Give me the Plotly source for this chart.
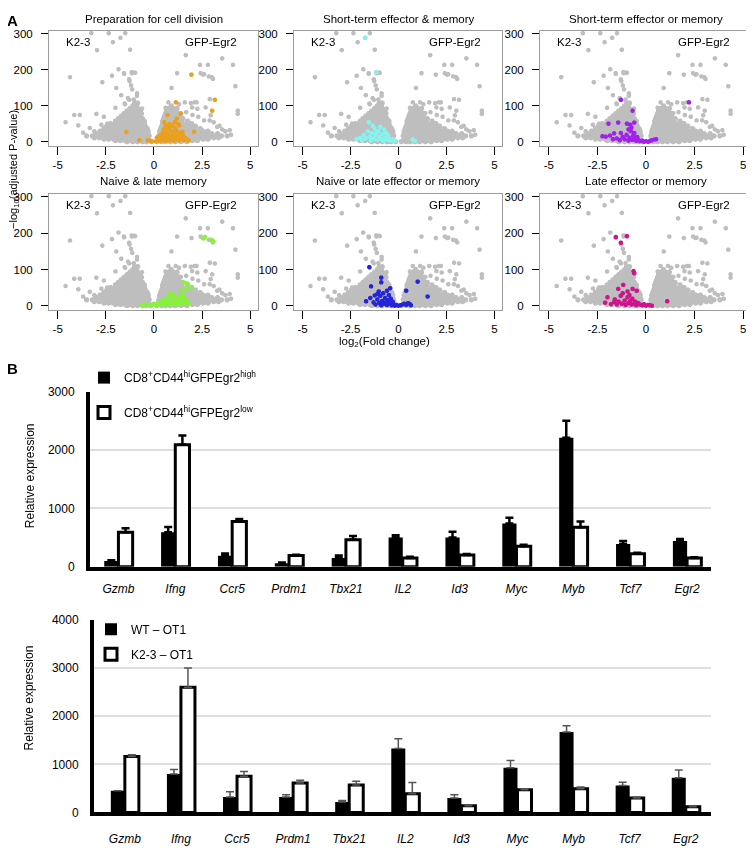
import plotly.graph_objects as go

W, H = 754, 848          # window size
OFF = 8                  # default page body margin
FW, FH = W - OFF, H - OFF

# ---------------- Panel A data (volcano plots) ----------------
# dense grey mass: rows of (-log10 adj P, [log2 FC values])
grey_rows = [
    (1, [-1.4, -1.1, -0.85, -0.6, -0.4, -0.15, 0.15, 0.4, 0.6, 0.85, 1.1, 1.4, 1.7]),
    (4, [-2.0, -1.75, -1.5, -1.25, -1.0, -0.75, -0.5, -0.25, 0.25, 0.5, 0.75, 1.0, 1.25, 1.5, 1.75, 2.0, 2.25]),
    (8, [-2.6, -2.35, -2.1, -1.85, -1.6, -1.35, -1.1, -0.85, -0.6, -0.35, 0.3, 0.55, 0.8, 1.05, 1.3, 1.55, 1.8, 2.05, 2.3, 2.55, 2.8]),
    (12, [-3.1, -2.85, -2.6, -2.35, -2.1, -1.85, -1.6, -1.35, -1.1, -0.85, -0.6, -0.35, 0.35, 0.6, 0.85, 1.1, 1.35, 1.6, 1.85, 2.1, 2.35, 2.6, 2.85, 3.1, 3.35]),
    (17, [-3.5, -3.2, -2.95, -2.7, -2.45, -2.2, -1.95, -1.7, -1.45, -1.2, -0.95, -0.7, -0.45, -0.25, 0.25, 0.45, 0.7, 0.95, 1.2, 1.45, 1.7, 1.95, 2.2, 2.45, 2.7, 2.95, 3.2, 3.5, 3.8]),
    (23, [-3.0, -2.75, -2.5, -2.25, -2.0, -1.75, -1.5, -1.25, -1.0, -0.75, -0.5, -0.3, 0.3, 0.5, 0.75, 1.0, 1.25, 1.5, 1.75, 2.0, 2.25, 2.5, 2.75, 3.0, 3.3]),
    (30, [-2.8, -2.55, -2.3, -2.05, -1.8, -1.55, -1.3, -1.05, -0.8, -0.55, -0.3, 0.3, 0.55, 0.8, 1.05, 1.3, 1.55, 1.8, 2.05, 2.3, 2.55, 2.8]),
    (37, [-2.6, -2.35, -2.1, -1.85, -1.6, -1.35, -1.1, -0.85, -0.6, -0.35, 0.35, 0.6, 0.85, 1.1, 1.35, 1.6, 1.85, 2.1, 2.4]),
    (44, [-2.45, -2.2, -1.95, -1.7, -1.45, -1.2, -0.95, -0.7, -0.45, 0.4, 0.65, 0.9, 1.15, 1.4, 1.65, 1.9, 2.15]),
    (51, [-2.25, -2.0, -1.75, -1.5, -1.25, -1.0, -0.75, -0.5, 0.45, 0.7, 0.95, 1.2, 1.45, 1.7, 1.95]),
    (58, [-2.0, -1.75, -1.5, -1.25, -1.0, -0.75, -0.5, 0.45, 0.7, 0.95, 1.2, 1.45, 1.75]),
    (65, [-1.85, -1.6, -1.35, -1.1, -0.85, -0.6, 0.5, 0.75, 1.0, 1.25, 1.5]),
    (72, [-1.7, -1.45, -1.2, -0.95, -0.7, 0.55, 0.8, 1.05, 1.3]),
    (79, [-1.55, -1.3, -1.05, -0.8, -0.65, 0.6, 0.85, 1.1, 1.3]),
    (86, [-1.4, -1.15, -0.9, -0.7, 0.65, 0.9, 1.15]),
    (93, [-1.25, -1.05, -0.85, 0.75, 1.0, 1.2]),
    (100, [-1.1, -0.9, 0.9]),
    (108, [-1.0, -0.85]),
]
# scattered grey genes (log2 FC, -log10 adj P)
grey_outliers = [
    (-3.25, 302), (-2.35, 302), (-2.13, 277), (-1.74, 289), (-1.49, 302), (-2.96, 255), (-1.24, 256),
    (1.65, 241), (3.54, 232), (2.39, 214), (2.80, 214), (4.10, 214),
    (-4.36, 180), (-2.68, 166), (-2.18, 184), (-1.84, 202), (-1.56, 191), (-1.15, 191), (-1.01, 193),
    (-1.96, 150), (-1.27, 169), (-1.19, 157), (-1.13, 146),
    (0.91, 150), (1.2, 191), (2.42, 191), (2.54, 187), (2.85, 182), (3.06, 175), (4.23, 155),
    (-0.88, 135), (-0.88, 128), (-1.70, 130), (-1.5, 105), (-1.35, 122), (-1.05, 118),
    (-4.14, 75), (-3.85, 75), (-3.93, 46), (-4.59, 55), (-2.99, 78), (-3.68, 26), (-3.33, 39),
    (-2.73, 48), (-2.42, 51), (-3.1, 30), (-2.0, 95), (-2.6, 70),
    (4.35, 87), (4.35, 78), (3.93, 33), (3.54, 35), (3.28, 42), (2.89, 60), (2.94, 74), (2.68, 96),
    (2.90, 119), (1.91, 108), (2.25, 92), (1.98, 96), (1.67, 83), (1.49, 65),
    (0.6, 95), (0.75, 110), (1.3, 105), (1.6, 110), (2.1, 110), (1.4, 80), (2.0, 75), (2.3, 70),
    (2.6, 60), (3.1, 55), (3.4, 45), (3.7, 30), (4.0, 20),
    (1.95, 187), (3.16, 117), (3.02, 87), (1.13, 110), (-1.16, 194), (2.21, 110), (-1.29, 117),
    (-0.69, 87), (2.6, 188), (3.0, 180), (-1.52, 107), (1.0, 67), (-1.55, 189), (-0.98, 192),
    (-1.29, 174), (-0.62, 93),
]

orange_pts = [
    (1.94, 187), (3.16, 117), (3.02, 87), (1.13, 110), (0.70, 75), (1.39, 78), (1.19, 65), (1.31, 46),
    (1.08, 55), (2.08, 28), (-1.44, 28), (-0.76, 5), (-0.33, 5), (1.48, 28), (0.79, 45), (0.53, 55),
    (0.1, 2), (0.2, 5), (0.3, 3), (0.35, 10), (0.4, 6), (0.45, 15), (0.5, 4), (0.55, 20), (0.6, 8),
    (0.6, 30), (0.65, 14), (0.7, 40), (0.7, 3), (0.75, 22), (0.8, 10), (0.85, 33), (0.9, 5), (0.9, 18),
    (0.95, 45), (1.0, 12), (1.0, 28), (1.05, 3), (1.1, 38), (1.1, 20), (1.15, 8), (1.2, 30), (1.25, 15),
    (1.3, 4), (1.35, 24), (1.4, 10), (1.5, 18), (1.55, 5), (1.6, 12), (1.7, 8), (0.5, 35), (0.3, 18),
    (0.8, 50), (1.25, 50), (0.6, 45), (0.45, 26), (1.8, 4), (-0.1, 2), (-0.2, 4), (0.15, 12),
]
cyan_pts = [
    (-1.72, 290), (-1.16, 194), (-1.55, 55), (0.86, 3), (0.74, 7),
    (-2.2, 8), (-2.0, 12), (-1.9, 5), (-1.8, 20), (-1.7, 10), (-1.6, 30), (-1.5, 15), (-1.45, 4),
    (-1.4, 25), (-1.3, 10), (-1.25, 38), (-1.2, 20), (-1.1, 6), (-1.05, 30), (-1.0, 15), (-0.95, 42),
    (-0.9, 8), (-0.85, 22), (-0.8, 3), (-0.75, 35), (-0.7, 12), (-0.65, 25), (-0.6, 6), (-0.55, 18),
    (-0.5, 10), (-0.4, 4), (-0.3, 8), (-0.2, 3), (-1.35, 45), (-1.15, 28),
]
purple_pts = [
    (-1.29, 117), (-0.69, 87), (2.21, 110), (-1.93, 51), (-1.43, 54), (-0.98, 51), (-0.81, 48),
    (-0.6, 54), (-2.24, 16), (-2.07, 15), (-1.64, 24), (-1.29, 25), (-0.78, 30), (-1.5, 10),
    (-1.35, 5), (-1.2, 14), (-1.1, 8), (-1.0, 20), (-0.9, 4), (-0.85, 12), (-0.7, 6), (-0.65, 18),
    (-0.55, 9), (-0.5, 3), (-0.45, 14), (-0.4, 6), (-0.3, 2), (-0.2, 4), (-0.1, 1), (0.0, 2), (0.1, 1),
    (0.2, 3), (0.3, 5), (0.45, 7), (0.52, 8), (-0.9, 35), (-0.75, 40), (-1.7, 8), (-1.85, 18), (-0.6, 25),
]
green_pts = [
    (2.56, 186), (2.65, 190), (2.97, 182), (3.08, 178), (1.53, 65), (1.72, 62), (1.91, 51), (1.65, 47),
    (1.4, 42), (-0.65, 3), (-0.5, 5), (-0.3, 2), (-0.1, 4), (0.0, 6), (0.1, 2), (0.2, 8), (0.3, 4),
    (0.4, 12), (0.5, 6), (0.55, 18), (0.6, 3), (0.7, 10), (0.75, 25), (0.8, 5), (0.9, 15), (0.95, 30),
    (1.0, 8), (1.1, 20), (1.15, 4), (1.2, 12), (1.3, 25), (1.35, 6), (1.45, 15), (1.5, 30), (1.55, 8),
    (1.6, 20), (1.7, 12), (1.8, 5), (0.85, 35), (1.05, 28),
]
blue_pts = [
    (-1.52, 107), (-0.90, 78), (-0.90, 65), (-1.43, 54), (-0.43, 49), (1.0, 67), (1.52, 26), (0.40, 42),
    (-1.03, 40), (-1.69, 13), (-1.47, 22), (-1.24, 29), (-1.3, 10), (-1.2, 4), (-1.1, 18), (-1.0, 8),
    (-0.95, 28), (-0.9, 2), (-0.85, 14), (-0.8, 35), (-0.75, 6), (-0.7, 22), (-0.65, 10), (-0.6, 3),
    (-0.55, 16), (-0.5, 30), (-0.45, 7), (-0.4, 20), (-0.35, 2), (-0.3, 12), (-0.25, 5), (-0.2, 1),
    (-0.1, 3), (0.0, 1), (0.1, 2), (0.2, 4), (0.3, 6), (0.4, 3), (0.5, 8), (0.6, 5), (0.65, 2),
    (-0.6, 42), (-1.1, 33),
]
magenta_pts = [
    (-1.55, 189), (-0.98, 192), (-1.29, 174), (-0.64, 96), (-0.60, 90), (-1.17, 58), (-1.43, 47),
    (-0.69, 47), (-0.48, 42), (-1.98, 24), (-2.10, 9), (-1.64, 11), (-0.95, 24), (1.09, 13),
    (-1.8, 5), (-1.6, 18), (-1.5, 4), (-1.4, 12), (-1.3, 28), (-1.25, 6), (-1.1, 15), (-1.05, 3),
    (-0.9, 8), (-0.85, 30), (-0.8, 14), (-0.75, 4), (-0.7, 20), (-0.6, 6), (-0.55, 12), (-0.5, 2),
    (-0.4, 8), (-0.3, 4), (-0.2, 2), (-0.1, 5), (0.0, 1), (0.1, 3), (0.2, 2), (0.3, 1), (-1.2, 35),
    (-0.95, 40),
]

panel_titles = ["Preparation for cell division", "Short-term effector & memory",
                "Short-term effector or memory", "Naive & late memory",
                "Naive or late effector or memory", "Late effector or memory"]
panel_colors = ["#E9A021", "#86F3EE", "#A21FEE", "#86F23A", "#2424D8", "#D0128C"]
panel_points = [orange_pts, cyan_pts, purple_pts, green_pts, blue_pts, magenta_pts]

volc_xticks = [-5, -2.5, 0, 2.5, 5]
volc_xticktext = ["-5", "-2.5", "0", "2.5", "5"]
volc_yticks = [0, 100, 200, 300]

# ---------------- Panel B data (qPCR bars) ----------------
genes = ["Gzmb", "Ifng", "Ccr5", "Prdm1", "Tbx21", "IL2", "Id3", "Myc", "Myb", "Tcf7", "Egr2"]
top_high = [95, 590, 185, 60, 150, 500, 500, 740, 2210, 390, 440]
top_high_err = [15, 90, 40, 10, 40, 40, 100, 100, 290, 50, 35]
top_low = [590, 2090, 775, 190, 460, 150, 200, 350, 675, 220, 150]
top_low_err = [70, 160, 40, 15, 65, 20, 15, 25, 100, 20, 10]
bot_wt = [450, 800, 320, 320, 220, 1330, 300, 930, 1670, 560, 720]
bot_wt_err = [0, 90, 110, 50, 30, 200, 70, 150, 130, 70, 160]
bot_k2 = [1160, 2600, 750, 610, 570, 390, 140, 470, 490, 300, 120]
bot_k2_err = [40, 400, 100, 60, 80, 230, 10, 20, 40, 20, 10]
top_yticks = [0, 1000, 2000, 3000]
bot_yticks = [0, 1000, 2000, 3000, 4000]

FONT = "Liberation Sans, Arial, Helvetica, sans-serif"


def px(x):
    return (x - OFF) / FW


def py(y):
    return 1 - (y - OFF) / FH


fig = go.Figure()
layout = dict(width=FW, height=FH, margin=dict(l=0, r=0, t=0, b=0), autosize=False,
              paper_bgcolor="white", plot_bgcolor="white",
              font=dict(family=FONT, size=11, color="black"), showlegend=True,
              barmode="group", bargap=0.5, bargroupgap=0)
annotations = []

dense_x = [x for yv, xs in grey_rows for x in xs]
dense_y = [yv for yv, xs in grey_rows for x in xs]
out_x = [p[0] for p in grey_outliers]
out_y = [p[1] for p in grey_outliers]

cols = [(49, 258), (294, 502), (540, 751)]
rows = [(24, 141), (190, 308)]
title_y = [12, 177]
VF = 11.5

for i in range(6):
    r, c = divmod(i, 3)
    n = i + 1
    xa = "x" if n == 1 else f"x{n}"
    ya = "y" if n == 1 else f"y{n}"
    fig.add_trace(go.Scattergl(x=dense_x, y=dense_y, mode="markers", xaxis=xa, yaxis=ya,
                               marker=dict(size=5.6, color="#BEBEBE"), showlegend=False,
                               hoverinfo="skip"))
    fig.add_trace(go.Scattergl(x=out_x, y=out_y, mode="markers", xaxis=xa, yaxis=ya,
                               marker=dict(size=4.6, color="#BEBEBE"), showlegend=False,
                               hoverinfo="skip"))
    pts = panel_points[i]
    fig.add_trace(go.Scattergl(x=[p[0] for p in pts], y=[p[1] for p in pts], mode="markers",
                               xaxis=xa, yaxis=ya, marker=dict(size=4.6, color=panel_colors[i]),
                               showlegend=False))
    x0, x1 = cols[c]
    y0, y1 = rows[r]
    layout[f"xaxis{'' if n == 1 else n}"] = dict(
        domain=[px(x0), px(x1)], anchor=ya, range=[-5.45, 5.4], tickmode="array",
        tickvals=volc_xticks, ticktext=volc_xticktext, ticks="outside", ticklen=8,
        tickcolor="black", showline=True, mirror=True, linecolor="#9C9C9C", linewidth=1,
        showgrid=False, zeroline=False, tickfont=dict(size=VF))
    layout[f"yaxis{'' if n == 1 else n}"] = dict(
        domain=[py(y1), py(y0)], anchor=xa, range=[-11, 308], tickmode="array",
        tickvals=volc_yticks, ticks="outside", ticklen=7, tickcolor="black",
        showline=True, mirror=True, linecolor="#9C9C9C", linewidth=1, showgrid=False,
        zeroline=False, tickfont=dict(size=VF), ticklabelstandoff=6)
    annotations.append(dict(text=panel_titles[i], x=px((x0 + x1) / 2), y=py(title_y[r]),
                            xref="paper", yref="paper", xanchor="center", yanchor="middle",
                            showarrow=False, font=dict(size=VF)))
    annotations.append(dict(text="K2-3", x=-4.68, y=278, xref=xa, yref=ya, xanchor="left",
                            yanchor="middle", showarrow=False, font=dict(size=VF)))
    annotations.append(dict(text="GFP-Egr2", x=4.4, y=278, xref=xa, yref=ya, xanchor="right",
                            yanchor="middle", showarrow=False, font=dict(size=VF)))


def note(text, x, y, size, angle=0, anchor="center", yanchor="middle"):
    return dict(text=text, x=px(x), y=py(y), xref="paper", yref="paper", xanchor=anchor,
                yanchor=yanchor, textangle=angle, showarrow=False, font=dict(size=size))


annotations += [
    note("<b>A</b>", 5, 3, 15, anchor="left", yanchor="top"),
    note("<b>B</b>", 5, 367, 15, anchor="left"),
    note("−log<sub>10</sub>(adjusted P-value)", 14.5, 165, 11, angle=-90),
    note("log<sub>2</sub>(Fold change)", 384, 341, VF),
    note("Relative expression", 30, 477, 12, angle=-90),
    note("Relative expression", 29, 703, 12, angle=-90),
]


def err(vals, color, thick):
    return dict(type="data", array=vals, arrayminus=[0] * len(vals), symmetric=False,
                color=color, thickness=thick, width=4)


fig.add_trace(go.Bar(x=genes, y=top_high, xaxis="x7", yaxis="y7",
                     name="CD8<sup>+</sup>CD44<sup>hi</sup>GFPEgr2<sup>high</sup>",
                     marker=dict(color="black", line=dict(color="black", width=0)),
                     error_y=err(top_high_err, "black", 2.5), legend="legend", legendgroup="a"))
fig.add_trace(go.Bar(x=genes, y=top_low, xaxis="x7", yaxis="y7",
                     name="CD8<sup>+</sup>CD44<sup>hi</sup>GFPEgr2<sup>low</sup>",
                     marker=dict(color="white", line=dict(color="black", width=3)),
                     error_y=err(top_low_err, "black", 2.5), legend="legend", legendgroup="b"))
fig.add_trace(go.Bar(x=genes, y=bot_wt, xaxis="x8", yaxis="y8", name="WT – OT1",
                     marker=dict(color="black", line=dict(color="black", width=0)),
                     error_y=err(bot_wt_err, "#555555", 1.5), legend="legend2", legendgroup="c"))
fig.add_trace(go.Bar(x=genes, y=bot_k2, xaxis="x8", yaxis="y8", name="K2-3 – OT1",
                     marker=dict(color="white", line=dict(color="black", width=3)),
                     error_y=err(bot_k2_err, "#555555", 1.5), legend="legend2", legendgroup="d"))

bar_x_common = dict(showline=True, linecolor="black", linewidth=4, ticks="", showgrid=False,
                    zeroline=False, tickfont=dict(size=12, style="italic"))
bar_y_common = dict(showline=True, linecolor="black", linewidth=4, ticks="", showgrid=True,
                    gridcolor="#DEDEDE", gridwidth=1.5, zeroline=False, tickfont=dict(size=12),
                    tickmode="array", ticklabelstandoff=9)
layout["xaxis7"] = dict(domain=[px(90), px(711)], anchor="y7", range=[-0.5, 10.42],
                        ticklabelstandoff=8, **bar_x_common)
layout["yaxis7"] = dict(domain=[py(569), py(391)], anchor="x7", range=[0, 3000],
                        tickvals=top_yticks, **bar_y_common)
layout["xaxis8"] = dict(domain=[px(94), px(711)], anchor="y8", range=[-0.55, 10.45],
                        ticklabelstandoff=12, **bar_x_common)
layout["yaxis8"] = dict(domain=[py(819), py(623)], anchor="x8", range=[0, 4000],
                        tickvals=bot_yticks, **bar_y_common)

layout["legend"] = dict(x=px(84), y=py(362), xanchor="left", yanchor="top",
                        bgcolor="rgba(0,0,0,0)", font=dict(size=12), tracegroupgap=16,
                        traceorder="grouped")
layout["legend2"] = dict(x=px(91), y=py(618), xanchor="left", yanchor="top",
                         bgcolor="rgba(0,0,0,0)", font=dict(size=12), tracegroupgap=6,
                         traceorder="grouped")
layout["annotations"] = annotations
fig.update_layout(**layout)
fig.write_html("out.html")
